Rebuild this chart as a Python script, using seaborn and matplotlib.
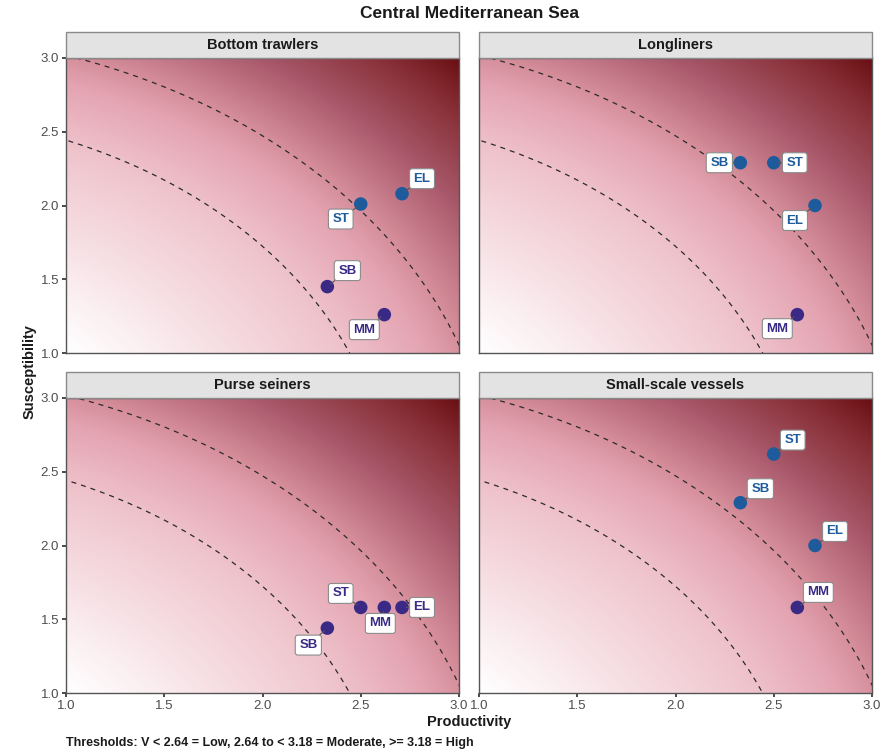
import numpy as np
import pandas as pd
import seaborn as sns
import matplotlib
matplotlib.use("Agg")
import matplotlib.pyplot as plt
from matplotlib.colors import LinearSegmentedColormap
from matplotlib.patches import Rectangle

# data
gears = ["Bottom trawlers", "Longliners", "Purse seiners", "Small-scale vessels"]
species = ["ST", "EL", "SB", "MM"]
productivity = {
    "Bottom trawlers":     [2.50, 2.71, 2.33, 2.62],
    "Longliners":          [2.50, 2.71, 2.33, 2.62],
    "Purse seiners":       [2.50, 2.71, 2.33, 2.62],
    "Small-scale vessels": [2.50, 2.71, 2.33, 2.62],
}
susceptibility = {
    "Bottom trawlers":     [2.01, 2.08, 1.45, 1.26],
    "Longliners":          [2.29, 2.00, 2.29, 1.26],
    "Purse seiners":       [1.58, 1.58, 1.44, 1.58],
    "Small-scale vessels": [2.62, 2.00, 2.29, 1.58],
}
thresholds = [2.64, 3.18]

# label offsets in pixels (dx, dy), styling only
offsets = {
    "Bottom trawlers":     [(-20, -15), (20, 15), (20, 16), (-20, -15)],
    "Longliners":          [(21, 0), (-20, -15), (-21, 0), (-20, -14)],
    "Purse seiners":       [(-20, 14), (20, 0), (-19, -17), (-4, -16)],
    "Small-scale vessels": [(19, 14), (20, 14), (20, 14), (21, 15)],
}

rows = []
for gear in gears:
    for sp, p, s in zip(species, productivity[gear], susceptibility[gear]):
        v = np.sqrt(p ** 2 + s ** 2)
        risk = "High" if v >= thresholds[1] else ("Moderate" if v >= thresholds[0] else "Low")
        rows.append({"gear": gear, "species": sp, "P": p, "S": s, "risk": risk})
df = pd.DataFrame(rows)

risk_colors = {"High": "#1d5b9c", "Moderate": "#3a2a86", "Low": "#2a9d5b"}

# background gradient by V
vmin, vmax = np.sqrt(2), np.sqrt(18)
nodes = [(1.41, "#ffffff"), (2.6, "#efc3cc"), (3.0, "#e4a4b2"), (3.2, "#d58d9a"),
         (3.6, "#a8586a"), (4.0, "#862e35"), (4.25, "#6a1014")]
cmap = LinearSegmentedColormap.from_list(
    "psa", [((v - nodes[0][0]) / (nodes[-1][0] - nodes[0][0]), c) for v, c in nodes])
gx, gy = np.meshgrid(np.linspace(1, 3, 300), np.linspace(1, 3, 300))
grid_v = np.sqrt(gx ** 2 + gy ** 2)

sns.set_theme(style="white")
plt.rcParams["font.family"] = ["Liberation Sans", "DejaVu Sans"]

g = sns.FacetGrid(df, col="gear", col_wrap=2, col_order=gears, height=3.5, aspect=1.3,
                  sharex=True, sharey=True)
g.map_dataframe(sns.scatterplot, x="P", y="S", hue="risk", palette=risk_colors,
                s=95, edgecolor="none", zorder=4)
g.set_titles("")
g.set_axis_labels("", "")
fig = g.figure
fig.set_size_inches(8.8, 7.54)

W, H = 880, 754
positions = {
    "Bottom trawlers": (66, 58), "Longliners": (479, 58),
    "Purse seiners": (66, 398), "Small-scale vessels": (479, 398),
}
aw, ah = 393, 295
theta = np.linspace(0, np.pi / 2, 400)

for gear, ax in g.axes_dict.items():
    x0, y0 = positions[gear]
    ax.set_position([x0 / W, 1 - (y0 + ah) / H, aw / W, ah / H])
    ax.imshow(grid_v, extent=[1, 3, 1, 3], origin="lower", cmap=cmap,
              vmin=vmin, vmax=vmax, aspect="auto", zorder=0)
    for r in thresholds:
        ax.plot(r * np.cos(theta), r * np.sin(theta), ls=(0, (4, 4)), color="#2b2b2b",
                lw=0.9, zorder=2)
    ax.set_xlim(1, 3)
    ax.set_ylim(1, 3)
    ax.set_xticks([1.0, 1.5, 2.0, 2.5, 3.0])
    ax.set_yticks([1.0, 1.5, 2.0, 2.5, 3.0])
    for sp in ax.spines.values():
        sp.set_visible(True)
        sp.set_color("#555555")
        sp.set_linewidth(1.0)
    left = gear in ("Bottom trawlers", "Purse seiners")
    bottom = gear in ("Purse seiners", "Small-scale vessels")
    ax.tick_params(axis="x", bottom=bottom, length=3, color="#333333", labelsize=9.5,
                   labelcolor="#4d4d4d", labelbottom=bottom, pad=2)
    ax.tick_params(axis="y", left=left, length=3, color="#333333", labelsize=9.5,
                   labelcolor="#4d4d4d", labelleft=left, pad=2)
    ax.xaxis.set_major_formatter(matplotlib.ticker.FormatStrFormatter("%.1f"))
    ax.yaxis.set_major_formatter(matplotlib.ticker.FormatStrFormatter("%.1f"))
    if ax.get_legend() is not None:
        ax.get_legend().remove()

    # strip
    sh = 26 / ah
    ax.add_patch(Rectangle((0, 1), 1, sh, transform=ax.transAxes, clip_on=False,
                           facecolor="#e3e3e3", edgecolor="#8a8a8a", lw=1.0, zorder=5))
    ax.text(0.5, 1 + sh / 2, gear, transform=ax.transAxes, ha="center", va="center",
            fontsize=10.5, fontweight="bold", color="#1a1a1a", zorder=6)

    # labels
    sub = df[df["gear"] == gear]
    for (_, row), (dx, dy) in zip(sub.iterrows(), offsets[gear]):
        col = risk_colors[row["risk"]]
        ax.annotate(row["species"], xy=(row["P"], row["S"]), xytext=(dx, dy),
                    textcoords="offset pixels", ha="center", va="center",
                    fontsize=9.5, fontweight="bold", color=col, zorder=7,
                    bbox=dict(boxstyle="round,pad=0.3,rounding_size=0.2", fc="white",
                              ec="#8c8c8c", lw=0.8),
                    arrowprops=dict(arrowstyle="-", color="#555555", lw=0.8,
                                    shrinkA=0, shrinkB=3))

fig.text(469 / W, 1 - 14 / H, "Central Mediterranean Sea", ha="center", va="center",
         fontsize=12.5, fontweight="bold", color="#1a1a1a")
fig.text(469 / W, 1 - 722 / H, "Productivity", ha="center", va="center",
         fontsize=10.5, fontweight="bold", color="#1a1a1a")
fig.text(30 / W, 1 - 372 / H, "Susceptibility", ha="center", va="center", rotation=90,
         fontsize=10.5, fontweight="bold", color="#1a1a1a")
fig.text(66 / W, 1 - 743 / H,
         "Thresholds: V < 2.64 = Low, 2.64 to < 3.18 = Moderate, >= 3.18 = High",
         ha="left", va="center", fontsize=9, fontweight="bold", color="#1a1a1a")

fig.savefig("out.png", dpi=100)
